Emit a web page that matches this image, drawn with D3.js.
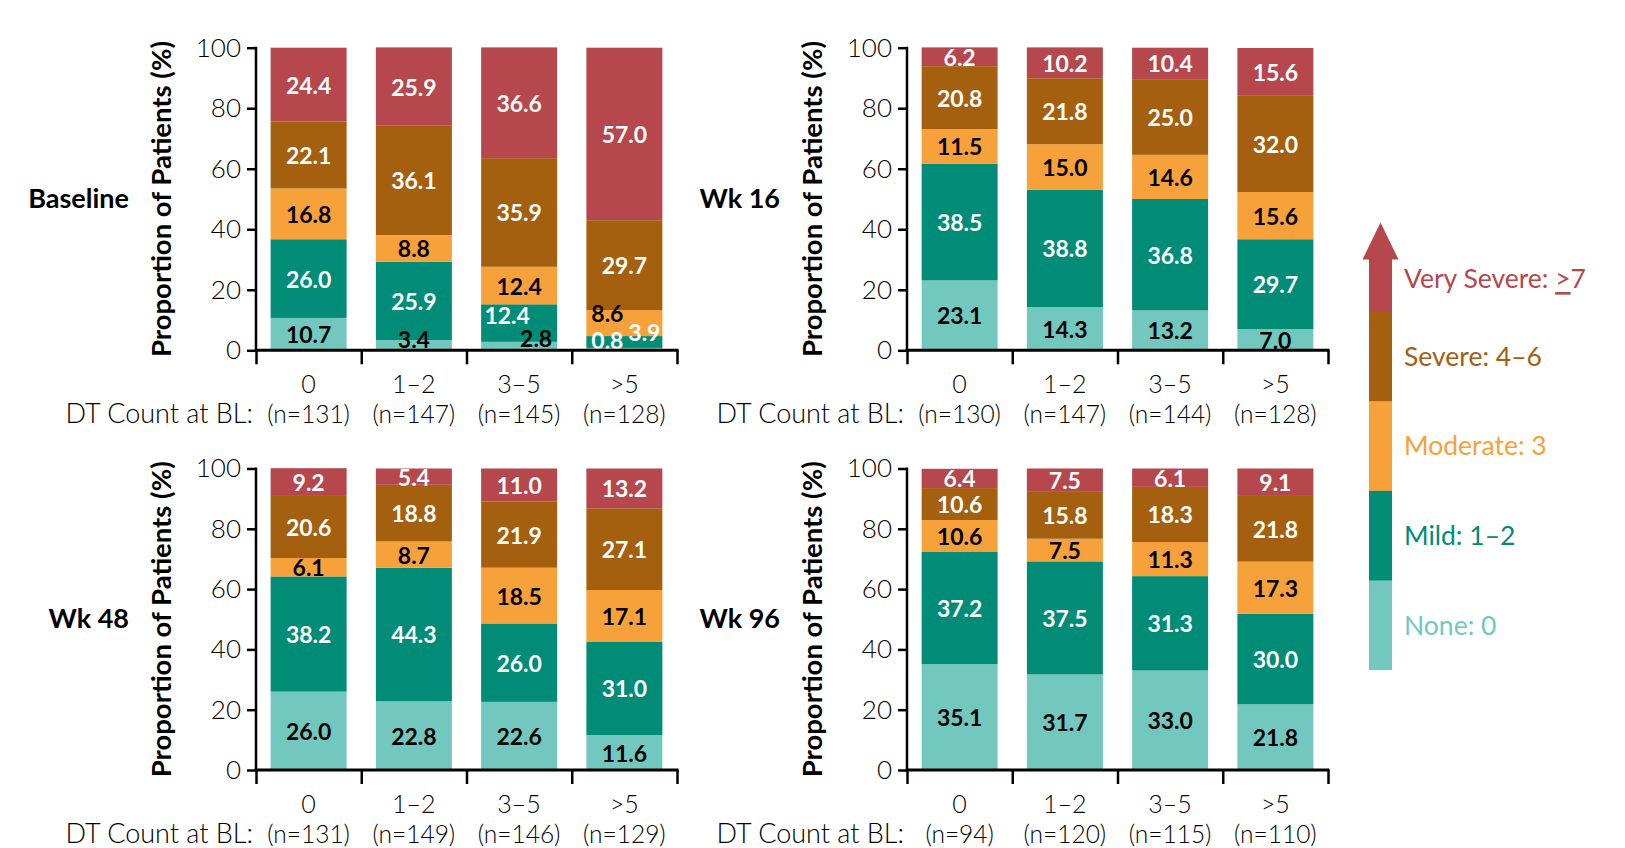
<!DOCTYPE html>
<html><head><meta charset="utf-8">
<script src="https://cdn.jsdelivr.net/npm/d3@7/dist/d3.min.js"></script>
<style>body{margin:0;background:#fff}svg{display:block}</style>
</head><body><svg id="chart" width="1625" height="848"></svg>
<script>
// ---- data ----
const categories = ["0", "1–2", "3–5", ">5"];
const severityKeys = ["None", "Mild", "Moderate", "Severe", "VerySevere"];
const severityNames = ["None: 0", "Mild: 1–2", "Moderate: 3", "Severe: 4–6", "Very Severe: "];
const severityColors = ["#72C8BE", "#008C77", "#F7A13A", "#A4600E", "#B5474D"];
const labelInk = ["#000", "#fff", "#000", "#fff", "#fff"];
const yTicks = [0, 20, 40, 60, 80, 100];
const panelTitles = ["Baseline", "Wk 16", "Wk 48", "Wk 96"];

// rows = categories, columns = None, Mild, Moderate, Severe, Very Severe
const baselineValues = [[10.7, 26.0, 16.8, 22.1, 24.4], [3.4, 25.9, 8.8, 36.1, 25.9], [2.8, 12.4, 12.4, 35.9, 36.6], [0.8, 3.9, 8.6, 29.7, 57.0]];
const wk16Values = [[23.1, 38.5, 11.5, 20.8, 6.2], [14.3, 38.8, 15.0, 21.8, 10.2], [13.2, 36.8, 14.6, 25.0, 10.4], [7.0, 29.7, 15.6, 32.0, 15.6]];
const wk48Values = [[26.0, 38.2, 6.1, 20.6, 9.2], [22.8, 44.3, 8.7, 18.8, 5.4], [22.6, 26.0, 18.5, 21.9, 11.0], [11.6, 31.0, 17.1, 27.1, 13.2]];
const wk96Values = [[35.1, 37.2, 10.6, 10.6, 6.4], [31.7, 37.5, 7.5, 15.8, 7.5], [33.0, 31.3, 11.3, 18.3, 6.1], [21.8, 30.0, 17.3, 21.8, 9.1]];
const baselineN = [131, 147, 145, 128];
const wk16N = [130, 147, 144, 128];
const wk48N = [131, 149, 146, 129];
const wk96N = [94, 120, 115, 110];

// ---- layout ----
const FONT = "Lato, 'Open Sans', sans-serif";
const svg = d3.select("#chart");
const plotW = 421;
const panelGeom = [
  {x0: 256, y0: 47.7, y1: 350.3},
  {x0: 907, y0: 47.7, y1: 350.3},
  {x0: 256, y0: 468.5, y1: 770},
  {x0: 907, y0: 468.5, y1: 770}
];
const allValues = [baselineValues, wk16Values, wk48Values, wk96Values];
const allN = [baselineN, wk16N, wk48N, wk96N];

// label nudges for crowded small segments (panel, category, key) -> [dx, dy, colour]
const nudges = {
  "0|1|0": [0, -6, null],
  "0|2|0": [17, -8, null],
  "0|2|1": [-12, -8, null],
  "0|3|0": [-17, -9, "#fff"],
  "0|3|1": [20, -10, null],
  "0|3|2": [-17, -10, null]
};

panelGeom.forEach((g, pi) => {
  const rows = categories.map((c, ci) => {
    const o = {cat: c};
    severityKeys.forEach((k, ki) => o[k] = allValues[pi][ci][ki]);
    return o;
  });
  const series = d3.stack().keys(severityKeys)(rows);
  const x = d3.scaleBand().domain(categories).range([g.x0, g.x0 + plotW]).paddingInner(0.278).paddingOuter(0.139);
  const y = d3.scaleLinear().domain([0, 100]).range([g.y1, g.y0]);
  const gp = svg.append("g");

  // bars
  series.forEach((s, ki) => {
    gp.append("g").selectAll("rect").data(s).join("rect")
      .attr("x", d => x(d.data.cat))
      .attr("width", x.bandwidth())
      .attr("y", d => y(d[1]))
      .attr("height", d => y(d[0]) - y(d[1]))
      .attr("fill", severityColors[ki]);
  });
  // value labels
  series.forEach((s, ki) => {
    gp.append("g").selectAll("text").data(s).join("text")
      .each(function(d, ci) {
        const nd = nudges[pi + "|" + ci + "|" + ki] || [0, 0, null];
        d3.select(this)
          .attr("x", x(d.data.cat) + x.bandwidth() / 2 + nd[0])
          .attr("y", (y(d[0]) + y(d[1])) / 2 + nd[1])
          .attr("fill", nd[2] || labelInk[ki]);
      })
      .attr("text-anchor", "middle")
      .attr("dominant-baseline", "central")
      .attr("font-family", FONT)
      .attr("font-weight", 700)
      .attr("font-size", 23)
      .text(d => (d[1] - d[0]).toFixed(1));
  });

  // y axis
  const ya = gp.append("g").attr("transform", `translate(${g.x0},0)`)
    .call(d3.axisLeft(y).tickValues(yTicks).tickSize(9).tickPadding(6));
  ya.select(".domain").attr("stroke", "#000").attr("stroke-width", 2.5).attr("d", `M0,${g.y0 - 1}V${g.y1}`);
  ya.selectAll(".tick line").attr("stroke", "#000").attr("stroke-width", 2.5);
  ya.selectAll(".tick text").attr("font-family", FONT).attr("font-weight", 300).attr("font-size", 26).attr("fill", "#000");

  // x axis with boundary ticks
  const xb = d3.scaleLinear().domain([0, categories.length]).range([g.x0, g.x0 + plotW]);
  const xa = gp.append("g").attr("transform", `translate(0,${g.y1})`)
    .call(d3.axisBottom(xb).ticks(categories.length).tickSize(14).tickFormat(""));
  xa.select(".domain").attr("stroke", "#000").attr("stroke-width", 3).attr("d", `M${g.x0 - 1.25},0H${g.x0 + plotW + 1.5}`);
  xa.selectAll(".tick line").attr("stroke", "#000").attr("stroke-width", 2.5);

  // category + n labels
  gp.append("g").selectAll("text").data(categories).join("text")
    .attr("x", d => x(d) + x.bandwidth() / 2).attr("y", g.y1 + 43)
    .attr("text-anchor", "middle").attr("font-family", FONT).attr("font-weight", 300).attr("font-size", 25)
    .text(d => d);
  gp.append("g").selectAll("text").data(allN[pi]).join("text")
    .attr("x", (d, i) => x(categories[i]) + x.bandwidth() / 2).attr("y", g.y1 + 73)
    .attr("text-anchor", "middle").attr("font-family", FONT).attr("font-weight", 300).attr("font-size", 24.5)
    .text(d => `(n=${d})`);
  gp.append("text").attr("x", g.x0 - 3).attr("y", g.y1 + 73)
    .attr("text-anchor", "end").attr("font-family", FONT).attr("font-weight", 300).attr("font-size", 27)
    .text("DT Count at BL:");

  // y title
  gp.append("text")
    .attr("transform", `translate(${g.x0 - 96},${(g.y0 + g.y1) / 2}) rotate(-90)`)
    .attr("text-anchor", "middle").attr("dominant-baseline", "central")
    .attr("font-family", FONT).attr("font-weight", 700).attr("font-size", 27.5)
    .text("Proportion of Patients (%)");
  // panel title
  gp.append("text").attr("x", g.x0 - 127).attr("y", (g.y0 + g.y1) / 2 - 2)
    .attr("text-anchor", "end").attr("dominant-baseline", "central")
    .attr("font-family", FONT).attr("font-weight", 700).attr("font-size", 27)
    .text(panelTitles[pi]);
});

// ---- legend ----
const lg = svg.append("g");
const ly = d3.scaleLinear().domain([0, severityKeys.length - 1]).range([669.5, 311]);
severityKeys.slice(0, 4).forEach((k, i) => {
  lg.append("rect").attr("x", 1369).attr("width", 23)
    .attr("y", ly(i + 1)).attr("height", ly(i) - ly(i + 1) + 0.5)
    .attr("fill", severityColors[i]);
});
lg.append("rect").attr("x", 1369).attr("width", 23).attr("y", 258).attr("height", ly(4) - 258 + 0.5).attr("fill", severityColors[4]);
lg.append("path").attr("d", `M1362.5,259.5L1380.5,222.5L1398.5,259.5Z`).attr("fill", severityColors[4]);
severityKeys.forEach((k, i) => {
  const cy = i === 4 ? 278 : (ly(i) + ly(i + 1)) / 2;
  const t = lg.append("text").attr("x", 1404).attr("y", cy)
    .attr("dominant-baseline", "central")
    .attr("font-family", FONT).attr("font-weight", 400).attr("font-size", 26.5)
    .attr("fill", severityColors[i]).text(severityNames[i]);
  if (i === 4) {
    t.append("tspan").attr("text-decoration", "underline").text(">");
    t.append("tspan").text("7");
  }
});
</script></body></html>
